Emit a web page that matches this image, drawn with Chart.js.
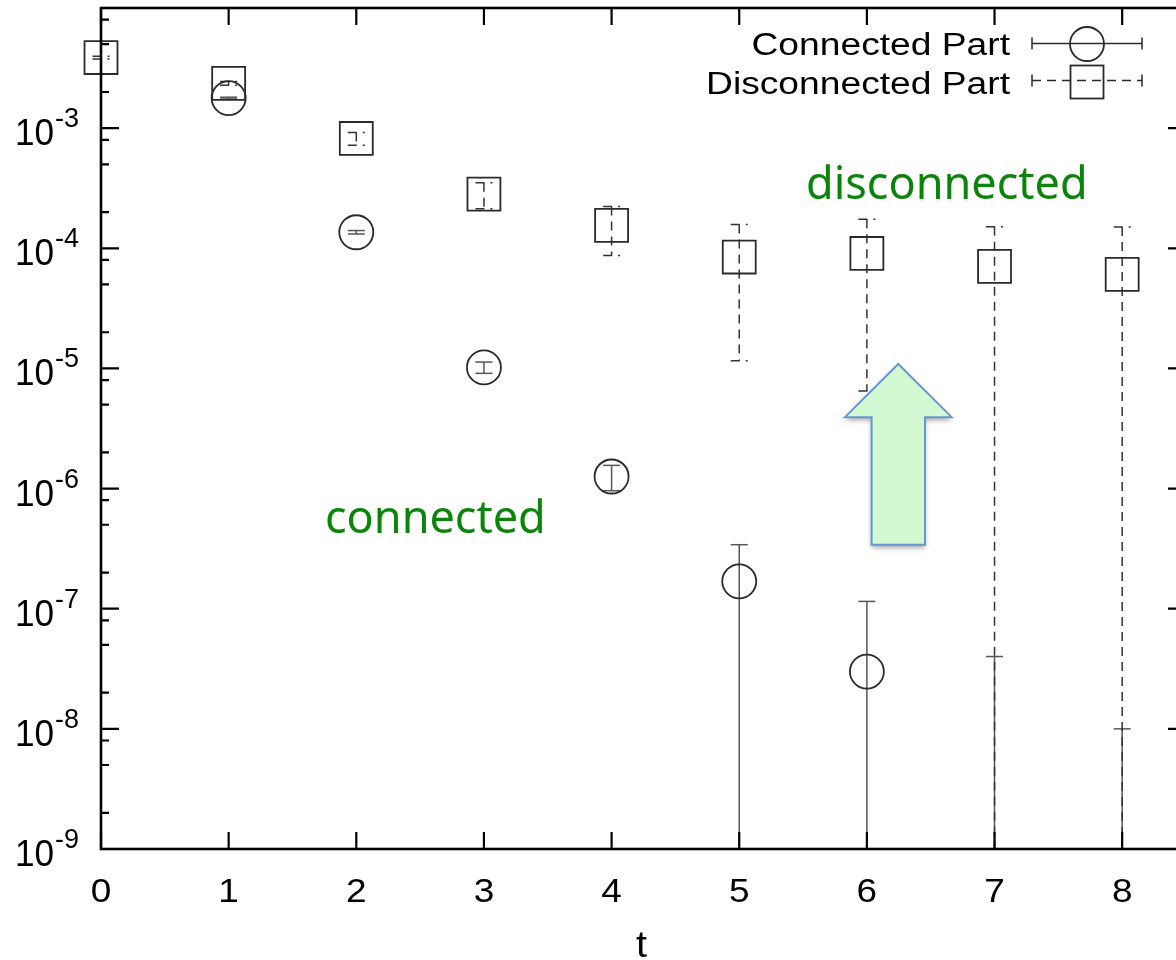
<!DOCTYPE html>
<html>
<head>
<meta charset="utf-8">
<title>Connected and disconnected parts vs t</title>
<script src="https://cdn.jsdelivr.net/npm/chart.js@4.4.1/dist/chart.umd.min.js"></script>
<style>
  html, body { margin: 0; padding: 0; background: #fff; overflow: hidden; width: 1176px; height: 960px; }
  #wrap { width: 1200px; height: 960px; }
</style>
</head>
<body>
<div id="wrap"><canvas id="plot" width="1200" height="960"></canvas></div>
<script>
// ---- data ----
const seriesNames = ['Connected Part', 'Disconnected Part'];

const connectedT     = [1, 2, 3, 4, 5, 6, 7, 8];
const connectedValue = [1.78e-3, 1.36e-4, 1.02e-5, 1.26e-6, 1.69e-7, 3.0e-8, 1e-10, 1e-10];
const connectedError = [3e-5, 4.5e-6, 1.1e-6, 0.3e-6, 1.72e-7, 8.5e-8, 3.99e-8, 0.99e-8];

const disconnectedT     = [0, 1, 2, 3, 4, 5, 6, 7, 8];
const disconnectedValue = [3.87e-3, 2.36e-3, 8.2e-4, 2.82e-4, 1.55e-4, 8.46e-5, 9.05e-5, 7.08e-5, 6.07e-5];
const disconnectedError = [1e-4, 8e-5, 1.0e-4, 0.69e-4, 0.68e-4, 7.3e-5, 8.4e-5, 8.0e-5, 9.0e-5];

const xTickValues = [0, 1, 2, 3, 4, 5, 6, 7, 8];
const xTickLabels = ['0', '1', '2', '3', '4', '5', '6', '7', '8'];
const yLabelExponents = [-9, -8, -7, -6, -5, -4, -3];
const yMajorExponents = [-9, -8, -7, -6, -5, -4, -3, -2];
const yMinorMantissas = [2, 5, 8];
const xTitle = 't';

// ---- annotation text and arrow (in data coordinates) ----
const notes = [
  { text: 'connected',    t: 1.755, v: 4.3e-7 },
  { text: 'disconnected', t: 5.523, v: 2.56e-4 }
];
const arrowOutline = [
  [6.246, 1.09e-5], [6.664, 3.93e-6], [6.455, 3.93e-6], [6.455, 3.41e-7],
  [6.037, 3.41e-7], [6.037, 3.93e-6], [5.828, 3.93e-6]
];

// ---- styling ----
const INK = '#2a2a2a';
const TICK_FONT = '"Liberation Sans", Arial, Helvetica, sans-serif';
const NOTE_FONT = '"Noto Sans", "Open Sans", sans-serif';
const NOTE_GREEN = '#0a850a';
const DASH = [9, 6];

function stretchedText(ctx, text, x, y, size, hScale, align) {
  ctx.save();
  ctx.font = size + 'px ' + TICK_FONT;
  ctx.textAlign = align;
  ctx.textBaseline = 'alphabetic';
  ctx.translate(x, y);
  ctx.scale(hScale, 1);
  ctx.fillText(text, 0, 0);
  ctx.restore();
}

function drawErrorBars(chart, ts, vals, errs, dashed) {
  const ctx = chart.ctx, xs = chart.scales.x, ys = chart.scales.y, area = chart.chartArea;
  ctx.save();
  ctx.beginPath();
  ctx.rect(0, area.top, chart.width, area.bottom - area.top);
  ctx.clip();
  ctx.strokeStyle = dashed ? '#333' : '#555';
  ctx.lineWidth = 1.5;
  ctx.setLineDash(dashed ? DASH : []);
  const cap = (x, y) => {
    ctx.beginPath(); ctx.moveTo(x - 8.5, y); ctx.lineTo(x + 8.5, y); ctx.stroke();
  };
  ts.forEach((t, i) => {
    const x = xs.getPixelForValue(t);
    const hi = vals[i] + errs[i];
    const lo = vals[i] - errs[i];
    const yHi = ys.getPixelForValue(hi);
    const yLo = lo > 0 ? ys.getPixelForValue(lo) : area.bottom + 4;
    ctx.beginPath(); ctx.moveTo(x, yHi); ctx.lineTo(x, yLo); ctx.stroke();
    cap(x, yHi);
    if (lo > 0) cap(x, yLo);
  });
  ctx.restore();
}

const framePlugin = {
  id: 'gnuFrame',
  beforeDatasetsDraw(chart) {
    drawErrorBars(chart, connectedT, connectedValue, connectedError, false);
    drawErrorBars(chart, disconnectedT, disconnectedValue, disconnectedError, true);
  },
  afterDraw(chart) {
    const ctx = chart.ctx, xs = chart.scales.x, ys = chart.scales.y, a = chart.chartArea;

    // frame
    ctx.save();
    ctx.strokeStyle = '#000';
    ctx.lineWidth = 2.6;
    ctx.strokeRect(a.left, a.top, a.right - a.left, a.bottom - a.top);

    // inward tick marks on all four sides
    ctx.lineWidth = 2.2;
    ctx.beginPath();
    xTickValues.forEach(v => {
      const x = xs.getPixelForValue(v);
      ctx.moveTo(x, a.bottom); ctx.lineTo(x, a.bottom - 17);
      ctx.moveTo(x, a.top);    ctx.lineTo(x, a.top + 17);
    });
    yMajorExponents.forEach(e => {
      const y = ys.getPixelForValue(Math.pow(10, e));
      ctx.moveTo(a.left, y);  ctx.lineTo(a.left + 18, y);
      ctx.moveTo(a.right, y); ctx.lineTo(a.right - 18, y);
      if (e < -2) {
        yMinorMantissas.forEach(m => {
          const ym = ys.getPixelForValue(m * Math.pow(10, e));
          ctx.moveTo(a.left, ym);  ctx.lineTo(a.left + 8, ym);
          ctx.moveTo(a.right, ym); ctx.lineTo(a.right - 8, ym);
        });
      }
    });
    ctx.stroke();
    ctx.restore();

    // tick labels
    ctx.save();
    ctx.fillStyle = '#000';
    xTickValues.forEach((v, i) => {
      stretchedText(ctx, xTickLabels[i], xs.getPixelForValue(v), a.bottom + 53, 33, 1.12, 'center');
    });
    yLabelExponents.forEach(e => {
      const y = ys.getPixelForValue(Math.pow(10, e));
      const sup = '-' + Math.abs(e);
      ctx.font = '27px ' + TICK_FONT;
      const supW = ctx.measureText(sup).width;
      const right = 79;
      stretchedText(ctx, sup, right, y - 1, 27, 1.0, 'right');
      stretchedText(ctx, '10', right - supW - 1, y + 17, 37, 0.95, 'right');
    });
    // axis title
    stretchedText(ctx, xTitle, (a.left + a.right) / 2 - 2, 957, 36, 1.1, 'center');
    ctx.restore();

    // key
    ctx.save();
    ctx.fillStyle = '#000';
    stretchedText(ctx, seriesNames[0], 1010, 55, 31, 1.2, 'right');
    stretchedText(ctx, seriesNames[1], 1010, 94, 31, 1.2, 'right');
    ctx.strokeStyle = INK;
    ctx.lineWidth = 1.5;
    // connected sample
    ctx.beginPath();
    ctx.moveTo(1032, 43.5); ctx.lineTo(1142, 43.5);
    ctx.moveTo(1032, 37.5); ctx.lineTo(1032, 49.5);
    ctx.moveTo(1142, 37.5); ctx.lineTo(1142, 49.5);
    ctx.stroke();
    ctx.lineWidth = 1.8;
    ctx.beginPath(); ctx.arc(1087, 44, 17, 0, Math.PI * 2); ctx.stroke();
    // disconnected sample
    ctx.lineWidth = 1.5;
    ctx.setLineDash(DASH);
    ctx.beginPath();
    ctx.moveTo(1032, 80.5); ctx.lineTo(1142, 80.5);
    ctx.stroke();
    ctx.setLineDash([]);
    ctx.beginPath();
    ctx.moveTo(1032, 74.5); ctx.lineTo(1032, 86.5);
    ctx.moveTo(1142, 74.5); ctx.lineTo(1142, 86.5);
    ctx.stroke();
    ctx.lineWidth = 1.8;
    ctx.strokeRect(1070.5, 65.5, 33, 33);
    ctx.restore();

    // green notes
    ctx.save();
    ctx.fillStyle = NOTE_GREEN;
    ctx.font = '45px ' + NOTE_FONT;
    ctx.textAlign = 'left';
    ctx.textBaseline = 'alphabetic';
    notes.forEach(n => ctx.fillText(n.text, xs.getPixelForValue(n.t), ys.getPixelForValue(n.v)));
    ctx.restore();

    // arrow
    ctx.save();
    ctx.beginPath();
    arrowOutline.forEach(([t, v], i) => {
      const x = xs.getPixelForValue(t), y = ys.getPixelForValue(v);
      if (i === 0) ctx.moveTo(x, y); else ctx.lineTo(x, y);
    });
    ctx.closePath();
    ctx.shadowColor = 'rgba(0,0,0,0.35)';
    ctx.shadowBlur = 5;
    ctx.shadowOffsetY = 3;
    ctx.fillStyle = '#d3f9d3';
    ctx.fill();
    ctx.shadowColor = 'transparent';
    ctx.strokeStyle = '#6896d0';
    ctx.lineWidth = 2;
    ctx.stroke();
    ctx.restore();
  }
};

new Chart(document.getElementById('plot'), {
  type: 'scatter',
  data: {
    datasets: [
      {
        label: seriesNames[0],
        data: connectedT.map((t, i) => ({ x: t, y: connectedValue[i] })),
        pointStyle: 'circle',
        pointRadius: 17,
        borderColor: INK,
        borderWidth: 1.8,
        backgroundColor: 'rgba(0,0,0,0)',
        showLine: false,
        clip: 0
      },
      {
        label: seriesNames[1],
        data: disconnectedT.map((t, i) => ({ x: t, y: disconnectedValue[i] })),
        pointStyle: 'rect',
        pointRadius: 23.3,
        borderColor: INK,
        borderWidth: 1.8,
        backgroundColor: 'rgba(0,0,0,0)',
        showLine: false,
        clip: false
      }
    ]
  },
  options: {
    responsive: false,
    animation: false,
    devicePixelRatio: 1,
    events: [],
    layout: { autoPadding: false, padding: { top: 8, left: 0, right: 14, bottom: 0 } },
    plugins: { legend: { display: false }, tooltip: { enabled: false } },
    scales: {
      x: {
        type: 'linear',
        min: 0,
        max: 8.5,
        grid: { display: false },
        border: { display: false },
        ticks: { display: false },
        afterFit: axis => { axis.height = 111; }
      },
      y: {
        type: 'logarithmic',
        min: 1e-9,
        max: 1e-2,
        grid: { display: false },
        border: { display: false },
        ticks: { display: false },
        afterFit: axis => { axis.width = 101; }
      }
    }
  },
  plugins: [framePlugin]
});
</script>
</body>
</html>
